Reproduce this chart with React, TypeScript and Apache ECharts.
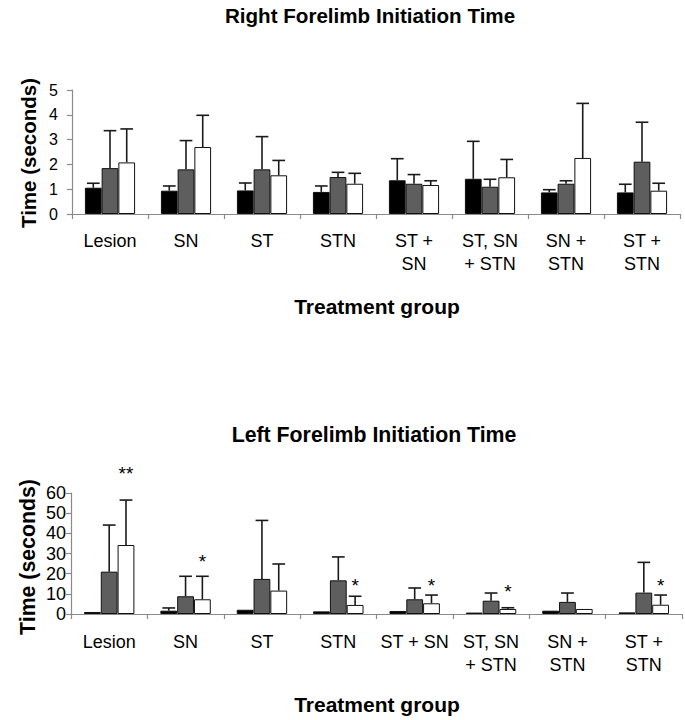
import React, { useEffect, useRef } from "react";
import * as echarts from "echarts";

const topCategories = ["Lesion", "SN", "ST", "STN", "ST +\nSN", "ST, SN\n+ STN", "SN +\nSTN", "ST +\nSTN"];
const bottomCategories = ["Lesion", "SN", "ST", "STN", "ST + SN", "ST, SN\n+ STN", "SN +\nSTN", "ST +\nSTN"];

const topBlack = [1.06, 0.94, 0.95, 0.89, 1.36, 1.42, 0.87, 0.87];
const topBlackErr = [1.24, 1.13, 1.25, 1.13, 2.23, 2.93, 0.98, 1.2];
const topGray = [1.85, 1.8, 1.8, 1.49, 1.22, 1.1, 1.22, 2.11];
const topGrayErr = [3.36, 2.96, 3.12, 1.68, 1.59, 1.4, 1.34, 3.7];
const topWhite = [2.08, 2.7, 1.56, 1.22, 1.17, 1.48, 2.26, 0.94];
const topWhiteErr = [3.43, 3.98, 2.16, 1.64, 1.34, 2.2, 4.46, 1.24];

const botBlack = [1.0, 1.65, 2.1, 1.3, 1.5, 0.7, 1.65, 0.8];
const botBlackErr = [null, 3.0, null, null, null, null, null, null];
const botGray = [21.0, 8.8, 17.4, 16.7, 7.3, 6.6, 6.0, 10.6];
const botGrayErr = [44.1, 18.7, 46.4, 28.3, 12.9, 10.4, 10.4, 25.6];
const botWhite = [34.2, 7.3, 11.6, 4.5, 5.3, 2.5, 2.5, 4.6];
const botWhiteErr = [56.5, 18.7, 24.8, 8.8, 9.4, 3.1, null, 9.4];

const botStars = ["**", "*", "", "*", "*", "*", "", "*"];
const botStarY = [71.5, 27.8, null, 16.2, 16.2, 13.2, null, 16.2];

const topYTicks = [0, 5, 1];
const botYTicks = [0, 60, 10];

const FONT = "'Liberation Sans', Arial, sans-serif";
const BAR_FRAC = 0.22;

function buildErr(series: number[][], errs: (number | null)[][]) {
  const out: any[] = [];
  errs.forEach((arr, b) => {
    arr.forEach((e, i) => {
      if (e != null) out.push([i, series[b][i], e, b]);
    });
  });
  return out;
}

function errRender(params: any, api: any) {
  const cat = api.value(0);
  const val = api.value(1);
  const err = api.value(2);
  const b = api.value(3);
  const band = api.size([1, 0])[0];
  const bw = band * BAR_FRAC;
  const base = api.coord([cat, val]);
  const top = api.coord([cat, err]);
  const x = base[0] + (b - 1) * bw;
  const cap = bw * 0.38;
  const st = { stroke: "#1a1a1a", lineWidth: 1.6 };
  return {
    type: "group",
    children: [
      { type: "line", shape: { x1: x, y1: base[1], x2: x, y2: top[1] }, style: st },
      { type: "line", shape: { x1: x - cap, y1: top[1], x2: x + cap, y2: top[1] }, style: st },
    ],
  };
}

const starItems: any[] = [];
botStars.forEach((s, i) => {
  if (s && botStarY[i] != null) starItems.push([i, botStarY[i], s]);
});

function starRender(params: any, api: any) {
  const cat = api.value(0);
  const y = api.value(1);
  const idx = params.dataIndex;
  const band = api.size([1, 0])[0];
  const bw = band * BAR_FRAC;
  const p = api.coord([cat, y]);
  return {
    type: "text",
    x: p[0] + bw,
    y: p[1] + 4,
    style: {
      text: starItems[idx][2],
      font: `19px ${FONT}`,
      fill: "#000",
      align: "center",
      verticalAlign: "middle",
      textAlign: "center",
      textVerticalAlign: "middle",
    },
  };
}

function barSeries(data: number[], color: string, axis: number) {
  return {
    type: "bar",
    xAxisIndex: axis,
    yAxisIndex: axis,
    data,
    barWidth: `${BAR_FRAC * 100}%`,
    barGap: "0%",
    itemStyle: { color, borderColor: "#111", borderWidth: 1 },
  };
}

function textEl(text: string, x: number, y: number, size: number, rotation = 0) {
  return {
    type: "text",
    x,
    y,
    rotation,
    style: {
      text,
      font: `bold ${size}px ${FONT}`,
      fill: "#000",
      align: "center",
      verticalAlign: "middle",
      textAlign: "center",
      textVerticalAlign: "middle",
    },
  };
}

export default function App() {
  const ref = useRef<HTMLDivElement>(null);
  useEffect(() => {
    document.body.style.margin = "0";
    if (!ref.current) return;
    const chart = echarts.init(ref.current, undefined, { renderer: "svg" });
    const axisLineStyle = { color: "#8a8a8a", width: 1.2 };
    const xAxisCommon = (cats: string[], gi: number, margin: number) => ({
      type: "category",
      gridIndex: gi,
      data: cats,
      axisLine: { lineStyle: axisLineStyle },
      axisTick: { show: true, length: 5, lineStyle: axisLineStyle, alignWithLabel: false },
      axisLabel: {
        interval: 0,
        color: "#000",
        fontFamily: FONT,
        fontSize: 18,
        lineHeight: 23,
        margin,
      },
    });
    const yAxisCommon = (t: number[], gi: number, size: number, margin: number) => ({
      type: "value",
      gridIndex: gi,
      min: t[0],
      max: t[1],
      interval: t[2],
      splitLine: { show: false },
      axisLine: { show: true, lineStyle: axisLineStyle },
      axisTick: { show: true, length: 5, lineStyle: axisLineStyle },
      axisLabel: { color: "#000", fontFamily: FONT, fontSize: size, margin },
    });
    chart.setOption({
      animation: false,
      backgroundColor: "#fff",
      grid: [
        { left: 72, top: 90, width: 608, height: 124 },
        { left: 71, top: 493, width: 611, height: 121 },
      ],
      xAxis: [xAxisCommon(topCategories, 0, 15), xAxisCommon(bottomCategories, 1, 16)],
      yAxis: [yAxisCommon(topYTicks, 0, 16, 14), yAxisCommon(botYTicks, 1, 18, 5)],
      series: [
        barSeries(topBlack, "#000000", 0),
        barSeries(topGray, "#5e5e5e", 0),
        barSeries(topWhite, "#ffffff", 0),
        barSeries(botBlack, "#000000", 1),
        barSeries(botGray, "#5e5e5e", 1),
        barSeries(botWhite, "#ffffff", 1),
        {
          type: "custom",
          xAxisIndex: 0,
          yAxisIndex: 0,
          clip: false,
          z: 3,
          renderItem: errRender,
          data: buildErr([topBlack, topGray, topWhite], [topBlackErr, topGrayErr, topWhiteErr]),
        },
        {
          type: "custom",
          xAxisIndex: 1,
          yAxisIndex: 1,
          clip: false,
          z: 3,
          renderItem: errRender,
          data: buildErr([botBlack, botGray, botWhite], [botBlackErr, botGrayErr, botWhiteErr]),
        },
        {
          type: "custom",
          xAxisIndex: 1,
          yAxisIndex: 1,
          clip: false,
          z: 4,
          renderItem: starRender,
          data: starItems.map((s) => [s[0], s[1]]),
        },
      ],
      graphic: [
        textEl("Right Forelimb Initiation Time", 370, 15, 20.6),
        textEl("Time (seconds)", 28, 153, 20.5, Math.PI / 2),
        textEl("Treatment group", 377, 306, 21),
        textEl("Left Forelimb Initiation Time", 374, 435, 21.3),
        textEl("Time (seconds)", 28, 557, 21.3, Math.PI / 2),
        textEl("Treatment group", 377, 704, 21),
      ],
    });
    return () => chart.dispose();
  }, []);
  return <div ref={ref} style={{ width: 685, height: 720 }} />;
}
